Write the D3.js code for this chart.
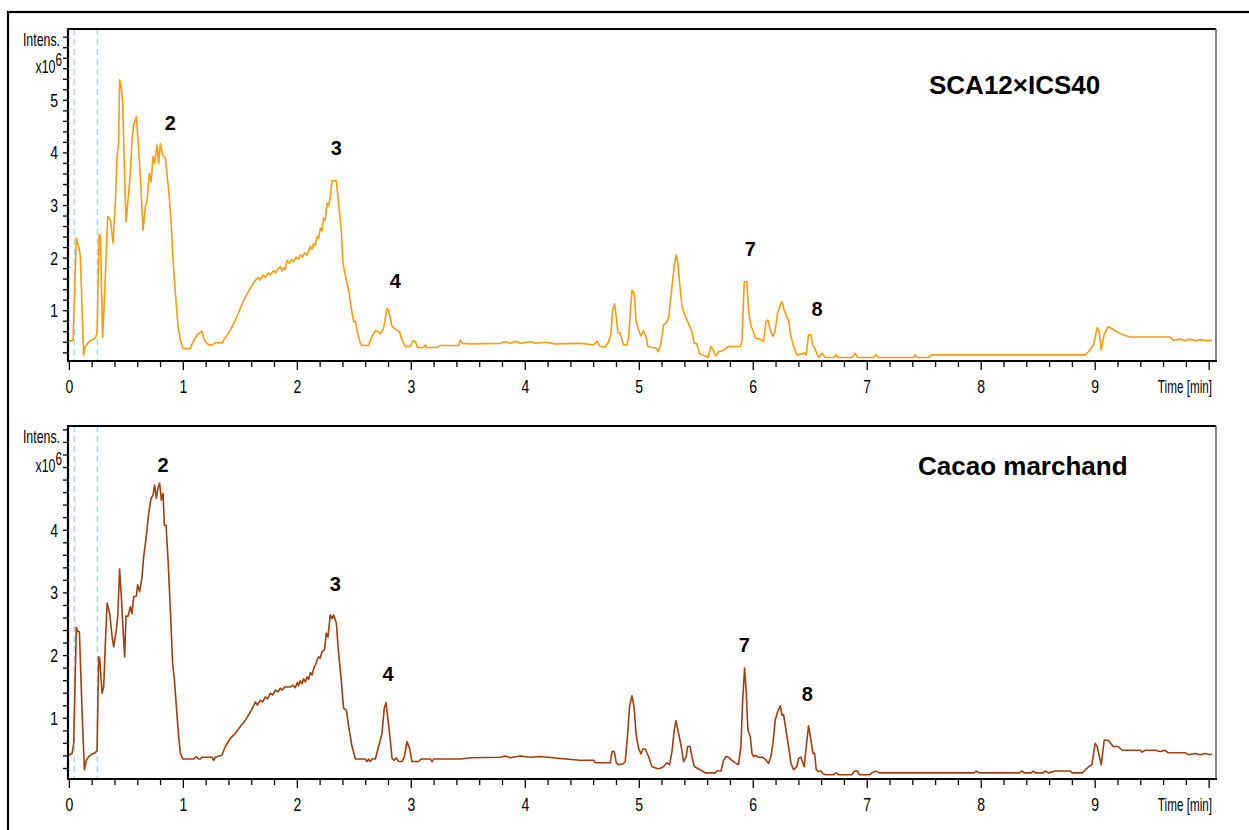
<!DOCTYPE html>
<html>
<head>
<meta charset="utf-8">
<script src="https://cdn.jsdelivr.net/npm/d3@7/dist/d3.min.js"></script>
<style>
  html, body { margin: 0; padding: 0; background: #ffffff; }
  svg { display: block; }
  .ax { font-family: "Liberation Sans", Arial, sans-serif; fill: #000; }
  .bold { font-family: "Liberation Sans", Arial, sans-serif; font-weight: bold; fill: #000; }
</style>
</head>
<body>
<svg id="chart" width="1249" height="830"></svg>
<script>
// ---------------- DATA ----------------
// Top trace: SCA12×ICS40 (time in min, intensity in 10^6)
const topTimes = [-0.01,0.032,0.061,0.082,0.096,0.125,0.140,0.161,0.184,0.228,0.243,0.261,0.272,0.292,0.307,0.336,0.360,0.383,0.404,0.418,0.432,0.441,0.454,0.468,0.482,0.497,0.520,0.535,0.550,0.564,0.588,0.608,0.623,0.646,0.667,0.682,0.702,0.717,0.734,0.748,0.769,0.783,0.798,0.818,0.842,0.871,0.892,0.910,0.930,0.954,0.974,0.997,1.061,1.079,1.120,1.164,1.184,1.222,1.252,1.281,1.339,1.412,1.456,1.529,1.588,1.632,1.66,1.675,1.70,1.72,1.745,1.763,1.79,1.81,1.83,1.851,1.865,1.880,1.895,1.910,1.93,1.95,1.968,1.99,2.01,2.026,2.045,2.065,2.085,2.10,2.114,2.128,2.143,2.158,2.173,2.187,2.202,2.215,2.231,2.245,2.261,2.275,2.289,2.304,2.342,2.362,2.383,2.401,2.430,2.450,2.471,2.494,2.509,2.529,2.553,2.568,2.625,2.655,2.684,2.713,2.728,2.757,2.787,2.801,2.831,2.860,2.897,2.918,2.947,2.991,3.015,3.035,3.055,3.108,3.123,3.138,3.225,3.254,3.415,3.430,3.447,3.518,3.781,3.825,3.868,3.912,3.956,4.044,4.088,4.175,4.263,4.482,4.599,4.629,4.658,4.702,4.731,4.752,4.766,4.783,4.798,4.813,4.833,4.862,4.892,4.906,4.921,4.936,4.956,4.971,4.994,5.015,5.038,5.059,5.076,5.111,5.149,5.169,5.190,5.213,5.237,5.257,5.287,5.310,5.325,5.339,5.360,5.375,5.404,5.432,5.462,5.482,5.506,5.529,5.579,5.603,5.629,5.652,5.673,5.696,5.739,5.783,5.886,5.901,5.921,5.945,5.959,5.980,5.997,6.018,6.061,6.090,6.111,6.129,6.149,6.173,6.193,6.213,6.237,6.252,6.272,6.296,6.310,6.325,6.354,6.383,6.427,6.447,6.465,6.485,6.506,6.520,6.538,6.573,6.602,6.632,6.704,6.728,6.748,6.866,6.895,6.915,7.055,7.076,7.099,7.404,7.421,7.436,7.538,7.553,7.582,8.912,8.941,8.985,9.018,9.035,9.053,9.079,9.114,9.175,9.237,9.307,9.658,9.684,9.746,9.789,9.833,9.877,9.921,9.974,10.026];
const topValues = [0.43,0.43,2.38,2.22,2.03,0.16,0.32,0.38,0.43,0.48,0.57,2.44,2.44,0.49,1.2,2.79,2.72,2.29,3.1,3.93,4.18,5.39,5.27,4.97,3.74,2.69,3.23,3.61,4.25,4.53,4.69,4.06,3.55,2.53,2.98,3.1,3.61,3.45,3.93,3.8,4.15,3.8,4.18,3.96,3.9,3.29,2.72,1.96,1.33,0.7,0.44,0.28,0.28,0.38,0.54,0.61,0.44,0.35,0.35,0.39,0.39,0.63,0.82,1.2,1.43,1.58,1.63,1.58,1.68,1.64,1.72,1.68,1.76,1.72,1.80,1.84,1.76,1.82,1.78,1.96,1.90,1.97,1.93,2.02,1.98,2.06,2.02,2.10,2.06,2.14,2.22,2.17,2.28,2.24,2.41,2.38,2.57,2.52,2.76,2.72,3.04,3.0,3.17,3.47,3.47,3.04,2.6,1.9,1.58,1.39,1.08,0.79,0.8,0.57,0.38,0.34,0.34,0.51,0.62,0.6,0.56,0.67,1.05,1.0,0.7,0.65,0.6,0.44,0.32,0.32,0.43,0.41,0.3,0.3,0.35,0.3,0.3,0.34,0.34,0.44,0.38,0.37,0.38,0.41,0.38,0.42,0.38,0.41,0.38,0.40,0.37,0.38,0.35,0.42,0.32,0.31,0.41,0.57,1.01,1.13,0.89,0.58,0.57,0.35,0.35,0.48,0.95,1.39,1.33,0.82,0.63,0.52,0.62,0.51,0.32,0.3,0.29,0.22,0.38,0.73,0.77,0.86,1.46,1.9,2.06,1.9,1.39,1.08,0.89,0.76,0.6,0.38,0.37,0.18,0.14,0.11,0.32,0.24,0.14,0.22,0.25,0.32,0.32,0.41,1.55,1.55,1.01,0.7,0.63,0.48,0.46,0.41,0.79,0.82,0.63,0.51,0.63,0.95,1.11,1.17,1.01,0.87,0.83,0.57,0.32,0.16,0.18,0.2,0.16,0.54,0.54,0.35,0.29,0.11,0.19,0.11,0.11,0.16,0.11,0.11,0.19,0.11,0.11,0.16,0.11,0.11,0.16,0.11,0.11,0.15,0.16,0.16,0.22,0.35,0.68,0.6,0.25,0.55,0.7,0.62,0.55,0.5,0.5,0.44,0.46,0.43,0.46,0.43,0.45,0.43,0.44];

// Bottom trace: Cacao marchand
const bottomTimes = [-0.01,0.024,0.038,0.061,0.076,0.088,0.103,0.120,0.132,0.149,0.169,0.199,0.228,0.243,0.257,0.266,0.287,0.301,0.316,0.331,0.354,0.375,0.389,0.412,0.424,0.441,0.456,0.471,0.485,0.497,0.515,0.535,0.550,0.564,0.588,0.599,0.617,0.638,0.652,0.675,0.696,0.717,0.734,0.748,0.763,0.778,0.792,0.807,0.822,0.833,0.848,0.866,0.886,0.906,0.924,0.945,0.959,0.974,0.997,1.090,1.114,1.132,1.149,1.164,1.252,1.266,1.281,1.339,1.368,1.412,1.456,1.500,1.544,1.588,1.61,1.632,1.65,1.675,1.695,1.719,1.74,1.763,1.785,1.807,1.83,1.85,1.866,1.89,1.939,1.96,1.982,2.0,2.009,2.025,2.041,2.055,2.070,2.085,2.099,2.115,2.129,2.145,2.158,2.172,2.187,2.2,2.217,2.239,2.254,2.269,2.289,2.304,2.318,2.342,2.362,2.383,2.406,2.430,2.450,2.480,2.509,2.596,2.611,2.626,2.640,2.655,2.684,2.713,2.743,2.763,2.778,2.792,2.816,2.831,2.851,2.868,2.889,2.918,2.939,2.962,2.985,3.006,3.064,3.085,3.167,3.182,3.196,3.430,3.518,3.781,3.825,3.868,3.956,4.044,4.132,4.307,4.482,4.599,4.614,4.746,4.761,4.781,4.798,4.818,4.857,4.877,4.897,4.915,4.936,4.956,4.971,4.994,5.015,5.032,5.053,5.082,5.111,5.155,5.184,5.213,5.243,5.266,5.287,5.307,5.322,5.345,5.368,5.389,5.412,5.424,5.447,5.462,5.482,5.535,5.579,5.667,5.682,5.717,5.740,5.761,5.783,5.813,5.842,5.871,5.892,5.906,5.924,5.939,5.953,5.974,5.989,6.003,6.018,6.047,6.079,6.105,6.134,6.155,6.173,6.193,6.213,6.237,6.252,6.266,6.287,6.310,6.331,6.354,6.383,6.398,6.418,6.436,6.447,6.465,6.485,6.506,6.524,6.538,6.553,6.573,6.594,6.612,6.632,6.704,6.728,6.748,6.866,6.886,6.915,6.930,7.020,7.041,7.075,7.104,7.939,7.956,7.982,8.333,8.357,8.377,8.439,8.456,8.474,8.544,8.561,8.588,8.649,8.781,8.798,8.886,8.939,8.971,9.000,9.018,9.053,9.079,9.114,9.158,9.202,9.237,9.395,9.412,9.439,9.526,9.570,9.614,9.640,9.789,9.816,9.877,9.921,9.965,10.009,10.026];
const bottomValues = [0.41,0.44,0.6,2.45,2.38,2.38,1.56,0.71,0.18,0.33,0.39,0.43,0.45,0.49,1.98,1.95,1.4,1.5,2.2,2.84,2.67,2.3,2.14,2.41,2.62,3.38,2.94,2.41,1.98,2.63,2.63,2.78,2.67,2.94,2.95,3.13,3.02,3.26,3.58,3.9,4.27,4.51,4.56,4.72,4.51,4.68,4.75,4.48,4.59,4.08,4.08,3.52,2.73,1.88,1.56,1.03,0.71,0.44,0.35,0.35,0.39,0.35,0.35,0.38,0.38,0.33,0.38,0.41,0.55,0.68,0.76,0.87,0.97,1.1,1.18,1.26,1.21,1.29,1.26,1.34,1.31,1.4,1.37,1.45,1.42,1.48,1.45,1.5,1.5,1.53,1.49,1.57,1.52,1.6,1.55,1.63,1.58,1.66,1.62,1.73,1.69,1.8,1.85,1.92,1.98,1.96,2.06,2.1,2.36,2.3,2.65,2.59,2.65,2.52,2.04,1.66,1.16,1.13,0.87,0.55,0.35,0.35,0.31,0.35,0.31,0.35,0.35,0.55,0.76,1.16,1.25,1.03,0.65,0.36,0.33,0.37,0.31,0.31,0.39,0.63,0.52,0.31,0.31,0.35,0.35,0.31,0.35,0.35,0.37,0.38,0.40,0.37,0.40,0.38,0.39,0.36,0.33,0.33,0.29,0.29,0.47,0.47,0.29,0.26,0.27,0.31,0.73,1.19,1.36,1.16,0.76,0.52,0.43,0.51,0.51,0.39,0.23,0.2,0.2,0.23,0.29,0.26,0.47,0.81,0.96,0.76,0.55,0.31,0.39,0.55,0.55,0.39,0.23,0.18,0.13,0.13,0.16,0.16,0.33,0.39,0.38,0.33,0.29,0.26,0.55,1.24,1.8,1.4,0.81,0.71,0.44,0.39,0.41,0.38,0.38,0.35,0.28,0.39,0.6,0.97,1.1,1.2,1.05,1.06,0.81,0.55,0.28,0.18,0.23,0.36,0.38,0.28,0.23,0.55,0.88,0.65,0.44,0.44,0.18,0.15,0.16,0.12,0.1,0.1,0.13,0.1,0.1,0.16,0.16,0.1,0.1,0.13,0.16,0.13,0.13,0.16,0.13,0.13,0.16,0.13,0.13,0.16,0.13,0.13,0.16,0.13,0.16,0.16,0.13,0.13,0.22,0.26,0.6,0.55,0.26,0.65,0.65,0.55,0.55,0.49,0.49,0.46,0.49,0.49,0.47,0.49,0.45,0.45,0.42,0.44,0.42,0.44,0.42,0.43];

// Axis ticks / labels
const xMajorTicks = [0,1,2,3,4,5,6,7,8,9,10];
const xTickLabels = ["0","1","2","3","4","5","6","7","8","9"];
const xAxisTitle = "Time [min]";
const yLabelsTop = [1,2,3,4,5];
const yLabelsBottom = [1,2,3,4];
const yAxisTitle = "Intens.";
const yUnit = "x10";
const yUnitExp = "6";
const markerTimes = [0.044, 0.246];

// Sample names and peak annotations
const topTitle = "SCA12×ICS40";
const bottomTitle = "Cacao marchand";
const topPeakLabels = ["2","3","4","7","8"];
const topPeakTimes = [0.886, 2.342, 2.860, 5.974, 6.559];
const topPeakLevels = [4.57, 4.09, 1.57, 2.17, 1.03];
const bottomPeakLabels = ["2","3","4","7","8"];
const bottomPeakTimes = [0.822, 2.333, 2.796, 5.921, 6.474];
const bottomPeakLevels = [5.04, 3.14, 1.70, 2.17, 1.39];

// ---------------- DRAWING ----------------
const svg = d3.select("#chart");
svg.append("rect").attr("x",0).attr("y",0).attr("width",1249).attr("height",830).attr("fill","#fff");
// outer frame
svg.append("rect").attr("x",8).attr("y",12).attr("width",1260).attr("height",840)
  .attr("fill","none").attr("stroke","#000").attr("stroke-width",2.2);

const x = d3.scaleLinear().domain([-0.012, 10.06]).range([68, 1216]);

// condensed text helper (narrow axis font)
function narrow(sel, px, py, sx) {
  return sel.attr("x", 0).attr("y", 0).attr("transform", `translate(${px},${py}) scale(${sx},1)`);
}

function panel(cfg) {
  const y = d3.scaleLinear().domain(cfg.domain).range([cfg.bottom, cfg.top]);
  const g = svg.append("g");

  // dashed marker lines
  g.selectAll("line.mk").data(markerTimes).join("line")
    .attr("x1", d => x(d)).attr("x2", d => x(d))
    .attr("y1", cfg.top).attr("y2", cfg.bottom)
    .attr("stroke", "#a9d3f5").attr("stroke-width", 1.4).attr("stroke-dasharray", "6,4");

  // trace
  const pts = cfg.times.map((t,i) => [t, cfg.values[i]]);
  const line = d3.line().x(d => x(d[0])).y(d => y(d[1]));
  g.append("path").datum(pts).attr("d", line)
    .attr("fill","none").attr("stroke", cfg.color).attr("stroke-width", 1.6)
    .attr("stroke-linejoin","round");

  // frame: top black, right grey
  g.append("line").attr("x1", 67).attr("x2", 1216).attr("y1", cfg.top).attr("y2", cfg.top)
    .attr("stroke","#000").attr("stroke-width",2.2);
  g.append("line").attr("x1", 1216).attr("x2", 1216).attr("y1", cfg.top).attr("y2", cfg.bottom)
    .attr("stroke","#666").attr("stroke-width",1.6);

  // x axis
  const xMinor = d3.range(0, 50.5).map(i => i*0.2).filter(v => Math.abs(v - Math.round(v)) > 1e-6 && v < 10.05);
  g.selectAll("line.xmin").data(xMinor).join("line")
    .attr("x1", d => x(d)).attr("x2", d => x(d))
    .attr("y1", cfg.bottom).attr("y2", cfg.bottom + 6)
    .attr("stroke","#000").attr("stroke-width",1.3);
  g.selectAll("line.xmaj").data(xMajorTicks).join("line")
    .attr("x1", d => x(d)).attr("x2", d => x(d))
    .attr("y1", cfg.bottom).attr("y2", cfg.bottom + 9)
    .attr("stroke","#000").attr("stroke-width",1.3);
  g.selectAll("text.xl").data(xTickLabels).join("text")
    .attr("class","ax").attr("text-anchor","middle").attr("font-size", 18)
    .each(function(d,i){ narrow(d3.select(this), x(xMajorTicks[i]), cfg.bottom + 32, 0.78); })
    .text(d => d);
  narrow(g.append("text").attr("class","ax").attr("text-anchor","end").attr("font-size", 18),
         1212, cfg.bottom + 32, 0.65).text(xAxisTitle);
  g.append("line").attr("x1", 67).attr("x2", 1217).attr("y1", cfg.bottom).attr("y2", cfg.bottom)
    .attr("stroke","#000").attr("stroke-width",2.2);

  // y axis
  const yMinor = d3.range(1, 40).map(i => i*0.2).filter(v => v > cfg.domain[0] && v < cfg.domain[1]);
  g.selectAll("line.ymin").data(yMinor).join("line")
    .attr("x1", 68).attr("x2", 63)
    .attr("y1", d => y(d)).attr("y2", d => y(d))
    .attr("stroke","#000").attr("stroke-width",1.3);
  g.selectAll("text.yl").data(cfg.yLabels).join("text")
    .attr("class","ax").attr("text-anchor","end").attr("font-size", 18)
    .each(function(d){ narrow(d3.select(this), 58, y(d) + 6.5, 0.78); })
    .text(d => d);
  narrow(g.append("text").attr("class","ax").attr("text-anchor","end").attr("font-size", 19),
         60, cfg.top + 17, 0.65).text(yAxisTitle);
  const u = narrow(g.append("text").attr("class","ax").attr("text-anchor","end").attr("font-size", 19),
         62, cfg.top + cfg.unitOffset, 0.65);
  u.append("tspan").text(yUnit);
  u.append("tspan").attr("dy", -7).attr("font-size", 18).text(yUnitExp);
  g.append("line").attr("x1", 68).attr("x2", 68).attr("y1", cfg.top - 1).attr("y2", cfg.bottom + 1)
    .attr("stroke","#000").attr("stroke-width",2.2);

  // title
  g.append("text").attr("class","bold").attr("x", cfg.titleX).attr("y", cfg.titleY)
    .attr("font-size", 26).text(cfg.title);

  // peak labels
  g.selectAll("text.pk").data(cfg.peakLabels).join("text")
    .attr("class","bold")
    .attr("x", (d,i) => x(cfg.peakTimes[i]))
    .attr("y", (d,i) => y(cfg.peakLevels[i]) + 7)
    .attr("text-anchor","middle").attr("font-size", 20)
    .text(d => d);
}

panel({ top: 29, bottom: 361, domain: [0.044, 6.356], times: topTimes, values: topValues,
        color: "#ff9a0a", yLabels: yLabelsTop, title: topTitle, titleX: 929, titleY: 94, unitOffset: 44,
        peakLabels: topPeakLabels, peakTimes: topPeakTimes, peakLevels: topPeakLevels });
panel({ top: 426, bottom: 779, domain: [0.032, 5.662], times: bottomTimes, values: bottomValues,
        color: "#a33d0c", yLabels: yLabelsBottom, title: bottomTitle, titleX: 918, titleY: 475, unitOffset: 46,
        peakLabels: bottomPeakLabels, peakTimes: bottomPeakTimes, peakLevels: bottomPeakLevels });
</script>
</body>
</html>
